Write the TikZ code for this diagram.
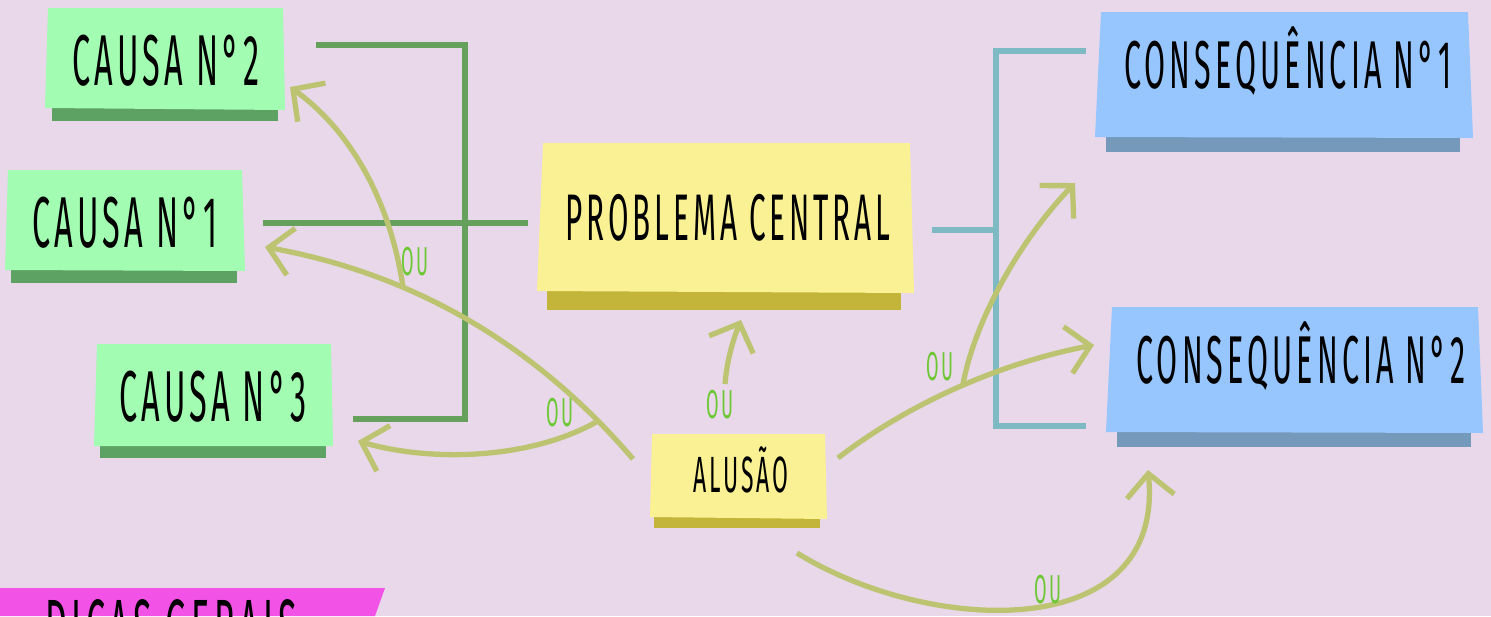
\documentclass[tikz,border=0pt]{standalone}
\usepackage{fontspec}
\newfontfamily\Mao[FakeStretch=0.45,LetterSpace=6]{Fira Sans}
\usepackage{tikz}
\usetikzlibrary{arrows.meta}
\definecolor{fundo}{HTML}{E8D8EA}
\definecolor{verdeNota}{HTML}{A2FCB2}
\definecolor{verdeSombra}{HTML}{5DA262}
\definecolor{amareloNota}{HTML}{F9F193}
\definecolor{amareloSombra}{HTML}{C2B53A}
\definecolor{azulNota}{HTML}{97C5FD}
\definecolor{azulSombra}{HTML}{7499BA}
\definecolor{rosaNota}{HTML}{F352E6}
\definecolor{verdeRamo}{HTML}{65A05D}
\definecolor{azulRamo}{HTML}{7DBAC3}
\definecolor{oliva}{HTML}{BCC472}
\definecolor{verdeOu}{HTML}{6CC832}
\tikzset{
Texto/.style={
 font=\Mao\fontsize{#1}{#1}\selectfont,
 inner sep=0pt,
 anchor=base
 },
Texto/.default={41},
Ou/.style={
 font=\Mao\fontsize{23}{23}\selectfont,
 text=verdeOu,
 inner sep=0pt,
 anchor=base
 },
RamoCausa/.style={
 draw=verdeRamo,
 line width=3pt
 },
RamoConseq/.style={
 draw=azulRamo,
 line width=3pt
 },
Seta/.style={
 draw=oliva,
 line width=3pt,
 -{Straight Barb[length=13pt,width=27pt]}
 }
}

\begin{document}
\begin{tikzpicture}[x=0.02cm,y=-0.02cm]
\useasboundingbox (0,0) rectangle (1491,616);
\clip (0,0) rectangle (1491,616);
\fill[fundo] (0,0) rectangle (1491,616);
% notas
\fill[verdeSombra] (52,106) rectangle (278,121);
\fill[verdeNota] (48,8) -- (283,8) -- (285,110) -- (45,108) -- cycle;
\fill[verdeSombra] (11,268) rectangle (237,283);
\fill[verdeNota] (8,170) -- (242,170) -- (245,271) -- (5,270) -- cycle;
\fill[verdeSombra] (100,444) rectangle (326,458);
\fill[verdeNota] (97,344) -- (331,344) -- (333,446) -- (94,446) -- cycle;
\fill[amareloSombra] (547,289) rectangle (901,310);
\fill[amareloNota] (543,143) -- (910,143) -- (914,293) -- (537,291) -- cycle;
\fill[amareloSombra] (654,515) rectangle (820,528);
\fill[amareloNota] (652,434) -- (825,434) -- (827,519) -- (650,517) -- cycle;
\fill[azulSombra] (1106,136) rectangle (1460,152);
\fill[azulNota] (1101,12) -- (1468,12) -- (1473,138) -- (1095,137) -- cycle;
\fill[azulSombra] (1117,431) rectangle (1471,447);
\fill[azulNota] (1112,307) -- (1478,307) -- (1483,433) -- (1106,432) -- cycle;
\fill[rosaNota] (0,588) -- (385,588) -- (375,616) -- (0,616) -- cycle;
% textos
\node[Texto] (causa2) at (166,85) {CAUSA N°2};
\node[Texto] (causa1) at (125,247) {CAUSA N°1};
\node[Texto] (causa3) at (213,421) {CAUSA N°3};
\node[Texto=37.5] (problema) at (728,240) {PROBLEMA CENTRAL};
\node[Texto=29] (alusao) at (741,492) {ALUSÃO};
\node[Texto=38.5] (conseq1) at (1288,88) {CONSEQUÊNCIA N°1};
\node[Texto=38.5] (conseq2) at (1301,383) {CONSEQUÊNCIA N°2};
\node[Texto=43,anchor=base west] (dicas) at (45,652) {DICAS GERAIS};
% ramos
\coordinate (c2fim) at (316,45);
\coordinate (c1fim) at (263,223);
\coordinate (c3fim) at (353,419);
\coordinate (cantoA) at (465,45);
\coordinate (cantoB) at (465,419);
\coordinate (pcEsq) at (528,223);
\coordinate (pcDir) at (932,230);
\coordinate (juncao) at (996,230);
\coordinate (cantoC) at (996,51);
\coordinate (cantoD) at (996,426);
\coordinate (q1fim) at (1086,51);
\coordinate (q2fim) at (1086,426);
\draw[RamoCausa] (c2fim) -- (cantoA) -- (cantoB) -- (c3fim);
\draw[RamoCausa] (c1fim) -- (pcEsq);
\draw[RamoConseq] (q1fim) -- (cantoC) -- (cantoD) -- (q2fim);
\draw[RamoConseq] (pcDir) -- (juncao);
% setas
\coordinate (a1) at (633,459);
\coordinate (a2) at (725,384);
\coordinate (a3) at (838,458);
\coordinate (a4) at (797,553);
\coordinate (b1) at (403,287);
\coordinate (b2) at (598,421);
\coordinate (b3) at (963,384);
\coordinate (pCausa1) at (265,247);
\coordinate (pCausa2) at (290,87);
\coordinate (pCausa3) at (358,441);
\coordinate (pProblema) at (741,320);
\coordinate (pConseq1) at (1075,183);
\coordinate (pConseq2) at (1094,345);
\coordinate (pConseq2b) at (1148,470);
\draw[Seta] (a1) .. controls (540,350) and (420,275) .. (pCausa1);
\draw[Seta] (b1) .. controls (390,200) and (350,130) .. (pCausa2);
\draw[Seta] (b2) .. controls (530,460) and (430,462) .. (pCausa3);
\draw[Seta] (a2) .. controls (727,360) and (733,340) .. (pProblema);
\draw[Seta] (a3) .. controls (900,410) and (990,365) .. (pConseq2);
\draw[Seta] (b3) .. controls (975,320) and (1020,240) .. (pConseq1);
\draw[Seta] (a4) .. controls (930,635) and (1165,645) .. (pConseq2b);
% ou
\node[Ou] (ou1) at (415,275) {OU};
\node[Ou] (ou2) at (560,426) {OU};
\node[Ou] (ou3) at (720,418) {OU};
\node[Ou] (ou4) at (940,380) {OU};
\node[Ou] (ou5) at (1048,603) {OU};
\end{tikzpicture}
\end{document}
